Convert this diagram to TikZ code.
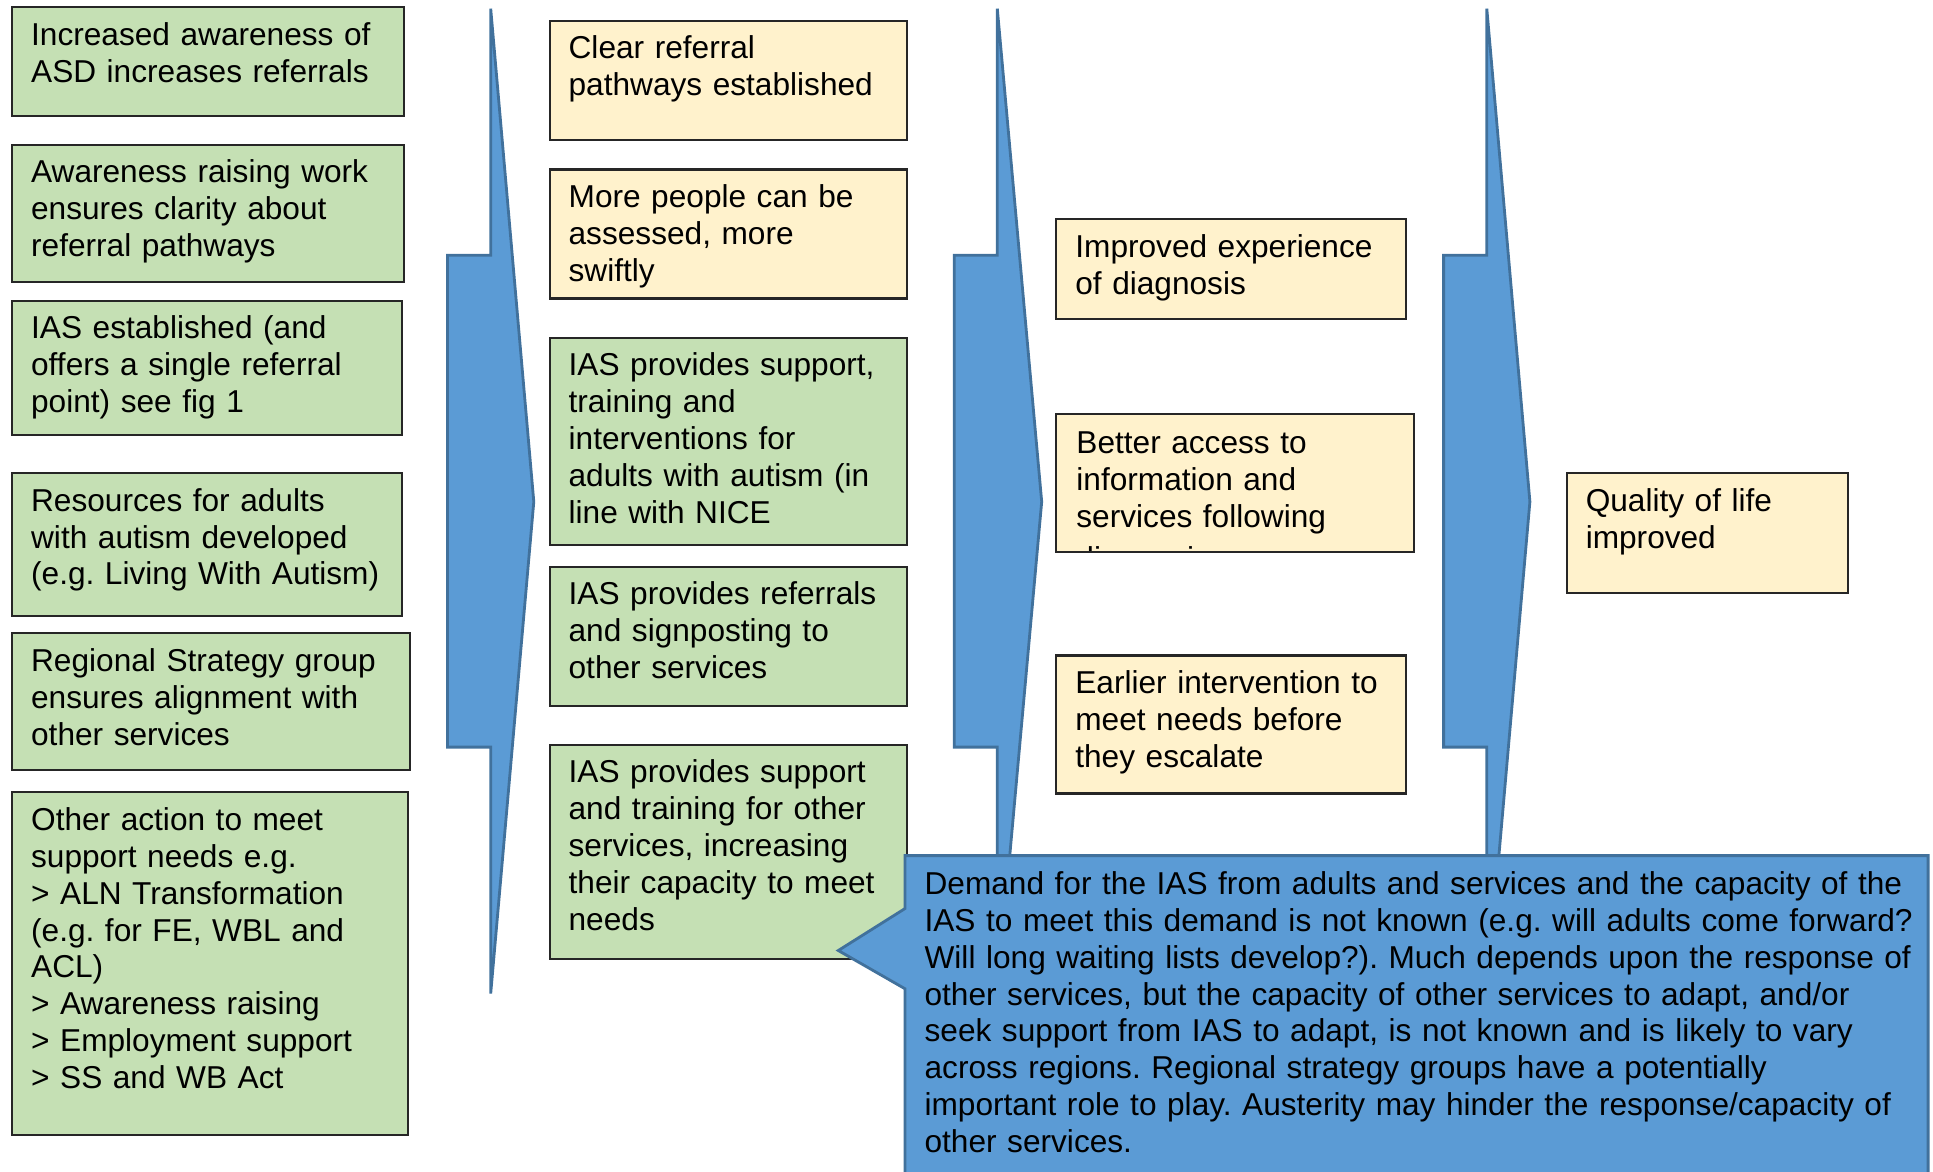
\documentclass[tikz,border=0pt]{standalone}
\usepackage{fontspec}
\setmainfont{Liberation Sans}
\usetikzlibrary{positioning}
\definecolor{boxgreen}{HTML}{C5E0B4}
\definecolor{boxyellow}{HTML}{FFF2CC}
\definecolor{flowblue}{HTML}{5B9BD5}
\definecolor{flowedge}{HTML}{41719C}
\frenchspacing
\hyphenpenalty=10000
\exhyphenpenalty=10000

\begin{document}
\begin{tikzpicture}[
    box/.style={rectangle, draw=black!85, line width=0.6pt, align=left, inner xsep=0.19cm, inner ysep=0.1cm, text height=0.28cm, font=\fontsize{9}{10.5}\selectfont},
    greenbox/.style={box, fill=boxgreen},
    yellowbox/.style={box, fill=boxyellow},
    flow/.style={fill=flowblue, draw=flowedge, line width=0.8pt},
    note/.style={align=left, inner xsep=0.19cm, inner ysep=0.1cm, text height=0.28cm, text width=10.5cm, font=\fontsize{9}{10.5}\selectfont}
]
\useasboundingbox (0,0) rectangle (19.33,-11.71);

    % Big arrows between the columns
    \draw[flow] (4.907,-0.086) -- (5.338,-5.017) -- (4.907,-9.936) -- (4.907,-7.471) -- (4.475,-7.471) -- (4.475,-2.552) -- (4.907,-2.552) -- cycle;
    \draw[flow] (9.973,-0.086) -- (10.417,-5.017) -- (9.973,-9.936) -- (9.973,-7.471) -- (9.542,-7.471) -- (9.542,-2.552) -- (9.973,-2.552) -- cycle;
    \draw[flow] (14.868,-0.086) -- (15.299,-5.017) -- (14.868,-9.936) -- (14.868,-7.471) -- (14.436,-7.471) -- (14.436,-2.552) -- (14.868,-2.552) -- cycle;

    % Column 1: activities
    \node[greenbox, text width=3.54cm, text depth=0.605cm, anchor=north west] (awareness) at (0.111,-0.062) {Increased awareness of\\ASD increases referrals};
    \node[greenbox, text width=3.54cm, text depth=0.89cm, below=0.27cm of awareness.south west, anchor=north west] (clarity) {Awareness raising work\\ensures clarity about\\referral pathways};
    \node[greenbox, text width=3.52cm, text depth=0.86cm, below=0.17cm of clarity.south west, anchor=north west] (established) {IAS established (and\\offers a single referral\\point) see fig 1};
    \node[greenbox, text width=3.52cm, text depth=0.95cm, below=0.36cm of established.south west, anchor=north west] (resources) {Resources for adults\\with autism developed\\(e.g. Living With Autism)};
    \node[greenbox, text width=3.60cm, text depth=0.89cm, below=0.15cm of resources.south west, anchor=north west] (regional) {Regional Strategy group\\ensures alignment with\\other services};
    \node[greenbox, text width=3.58cm, text depth=2.95cm, below=0.2cm of regional.south west, anchor=north west] (otheraction) {Other action to meet\\support needs e.g.\\> ALN Transformation\\(e.g. for FE, WBL and\\ACL)\\> Awareness raising\\> Employment support\\> SS and WB Act};

    % Column 2: outputs
    \node[yellowbox, text width=3.195cm, text depth=0.716cm, anchor=north west] (pathways) at (5.486,-0.197) {Clear referral\\pathways established};
    \node[yellowbox, text width=3.195cm, text depth=0.81cm, below=0.27cm of pathways.south west, anchor=north west] (assessed) {More people can be\\assessed, more\\swiftly};
    \node[greenbox, text width=3.195cm, text depth=1.59cm, below=0.37cm of assessed.south west, anchor=north west] (support) {IAS provides support,\\training and\\interventions for\\adults with autism (in\\line with NICE};
    \node[greenbox, text width=3.195cm, text depth=0.91cm, below=0.2cm of support.south west, anchor=north west] (signposting) {IAS provides referrals\\and signposting to\\other services};
    \node[greenbox, text width=3.195cm, text depth=1.66cm, below=0.37cm of signposting.south west, anchor=north west] (capacity) {IAS provides support\\and training for other\\services, increasing\\their capacity to meet\\needs};

    % Column 3: outcomes
    \node[yellowbox, text width=3.12cm, text depth=0.52cm, anchor=north west] (diagnosis) at (10.553,-2.182) {Improved experience\\of diagnosis};
    \node[yellowbox, text width=3.195cm, text depth=0.90cm, below=0.93cm of diagnosis.south west, anchor=north west,
        path picture={\node[box, draw=none, fill=none, text width=3.195cm, anchor=north west] (accesstext) at (path picture bounding box.north west) {Better access to\\information and\\services following\\[1.5pt]diagnosis};}] (access) {};
    \node[yellowbox, text width=3.12cm, text depth=0.90cm, below=1.01cm of access.south west, anchor=north west] (escalate) {Earlier intervention to\\meet needs before\\they escalate};

    % Column 4: impact
    \node[yellowbox, text width=2.43cm, text depth=0.716cm, anchor=north west] (quality) at (15.657,-4.722) {Quality of life\\improved};

    % Callout
    \draw[flow] (9.049,-8.556) -- (19.281,-8.556) -- (19.281,-12) -- (9.049,-12) -- (9.049,-9.887) -- (8.383,-9.505) -- (9.049,-9.086) -- cycle;
    \node[note, anchor=north west] (demand) at (9.049,-8.556) {Demand for the IAS from adults and services and the capacity of the\\IAS to meet this demand is not known (e.g. will adults come forward?\\Will long waiting lists develop?). Much depends upon the response of\\other services, but the capacity of other services to adapt, and/or\\seek support from IAS to adapt, is not known and is likely to vary\\across regions. Regional strategy groups have a potentially\\important role to play. Austerity may hinder the response/capacity of\\other services.};

\end{tikzpicture}
\end{document}
